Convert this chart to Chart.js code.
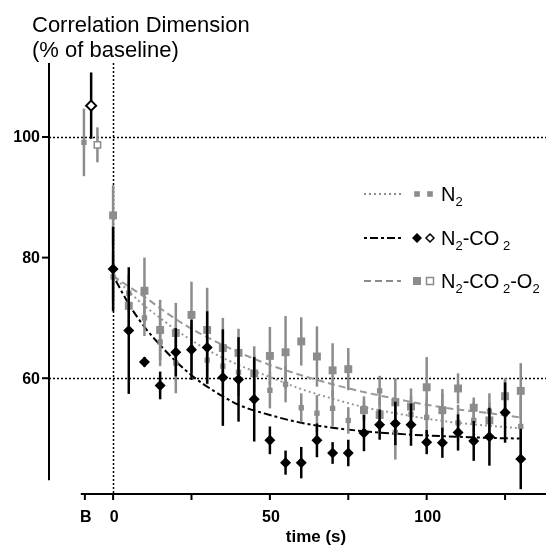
<!DOCTYPE html>
<html>
<head>
<meta charset="utf-8">
<script src="https://cdn.jsdelivr.net/npm/chart.js@4.4.1/dist/chart.umd.min.js"></script>
<style>
  html, body { margin: 0; padding: 0; background: #fff; }
  #wrap { width: 553px; height: 556px; }
</style>
</head>
<body>
<div id="wrap"><canvas id="chart" width="553" height="556"></canvas></div>
<script>
// sample times (s)
var times = [0, 5, 10, 15, 20, 25, 30, 35, 40, 45, 50, 55, 60, 65, 70, 75, 80, 85, 90, 95, 100, 105, 110, 115, 120, 125, 130];

// N2
var n2Mean = [76.8, 74.1, 70.0, 66.0, 62.5, 65.0, 63.0, 62.0, 61.0, 60.8, 58.0, 59.0, 55.1, 54.2, 55.0, 53.0, 55.0, 57.9, 51.0, 54.0, 53.5, 54.5, 52.6, 53.0, 54.5, 57.2, 52.0];
var n2Sem  = [4.0, 3.0, 3.0, 4.0, 5.0, 4.0, 4.0, 4.0, 4.0, 3.0, 3.0, 3.0, 2.4, 3.0, 3.0, 2.2, 2.0, 2.5, 4.5, 3.0, 3.0, 3.0, 3.0, 3.0, 3.0, 2.5, 5.0];

// N2-CO2
var co2Mean = [78.1, 67.9, 62.7, 58.8, 64.3, 64.7, 65.1, 60.1, 59.8, 56.5, 49.7, 46.0, 46.0, 49.7, 47.6, 47.6, 50.9, 52.3, 52.5, 52.3, 49.4, 49.3, 51.0, 49.6, 50.3, 54.3, 46.6];
var co2Sem  = [7.0, 10.5, 0.8, 2.3, 4.0, 5.0, 6.0, 8.0, 7.0, 7.0, 2.3, 2.0, 2.6, 2.8, 1.8, 2.2, 3.0, 2.5, 3.6, 3.5, 2.0, 2.5, 3.0, 3.3, 4.8, 5.0, 5.0];

// N2-CO2-O2
var o2Mean = [87.0, 72.0, 74.5, 68.0, 67.5, 70.5, 68.0, 65.0, 64.2, 60.8, 63.7, 64.3, 66.1, 63.6, 61.3, 61.5, 54.7, 53.9, 56.0, 55.3, 58.5, 54.7, 58.3, 55.1, 53.0, 57.0, 57.9];
var o2Sem  = [5.0, 4.0, 5.5, 5.0, 5.0, 5.5, 7.0, 5.0, 4.0, 4.5, 4.8, 6.0, 4.0, 5.0, 4.5, 3.5, 1.5, 3.0, 4.0, 3.0, 5.0, 3.5, 2.5, 1.7, 3.0, 3.0, 4.6];

// baseline column "B" (N2, N2-CO2, N2-CO2-O2)
var baseX    = [-9.3, -7.0, -5.0];
var baseMean = [99.1, 105.2, 98.7];
var baseSem  = [5.6, 5.5, 2.9];

// fitted decay curves
var fitTimes = [0, 5, 10, 15, 20, 25, 30, 40, 50, 60, 70, 80, 90, 100, 110, 120, 130];
var n2Fit  = [77, 74.4, 72, 70, 68, 66.3, 64.7, 62.2, 60.2, 58.2, 56.6, 55.2, 54.2, 53.3, 52.6, 52.1, 51.7];
var co2Fit = [77, 72.3, 68.5, 65.5, 62.8, 60.5, 58.6, 55.6, 53.9, 52.6, 51.8, 51.2, 50.8, 50.5, 50.3, 50.1, 50.0];
var o2Fit  = [77, 75.2, 73.5, 71.6, 69.8, 68.2, 66.8, 64.3, 62.2, 60.5, 59, 57.7, 56.6, 55.6, 54.8, 54.2, 53.5];

var yTicks = [60, 80, 100];
var xTicks = [-9, 0, 25, 50, 75, 100, 125];
var xTickLabels = ['B', '0', '', '50', '', '100', ''];

var FONT = "'Liberation Sans', Arial, sans-serif";
var GREY = '#8c8c8c';

function pts(xv, yv) {
    return xv.map(function (x, i) { return { x: x, y: yv[i] }; });
}

// error bars, drawn just under each dataset's markers
var errorBars = {
    id: 'errorBars',
    beforeDatasetDraw: function (chart, args) {
        var ds = chart.data.datasets[args.index];
        if (!ds.errors) return;
        var xs = chart.scales.x, ys = chart.scales.y, ctx = chart.ctx;
        ctx.save();
        ctx.strokeStyle = ds.barColor;
        ctx.lineWidth = 2.5;
        ds.data.forEach(function (p, i) {
            var px = xs.getPixelForValue(p.x);
            ctx.beginPath();
            ctx.moveTo(px, ys.getPixelForValue(p.y + ds.errors[i]));
            ctx.lineTo(px, ys.getPixelForValue(p.y - ds.errors[i]));
            ctx.stroke();
        });
        ctx.restore();
    }
};

// reference lines at 100 %, 60 % and t = 0
var refLines = {
    id: 'refLines',
    beforeDatasetsDraw: function (chart) {
        var xs = chart.scales.x, ys = chart.scales.y, ctx = chart.ctx, a = chart.chartArea;
        ctx.save();
        ctx.strokeStyle = '#000';
        ctx.lineWidth = 1.5;
        ctx.setLineDash([2, 2]);
        [100, 60].forEach(function (v) {
            var py = Math.round(ys.getPixelForValue(v)) + 0.5;
            ctx.beginPath(); ctx.moveTo(a.left, py); ctx.lineTo(a.right, py); ctx.stroke();
        });
        var px = Math.round(xs.getPixelForValue(0)) + 0.5;
        ctx.beginPath(); ctx.moveTo(px, a.top); ctx.lineTo(px, a.bottom); ctx.stroke();
        ctx.restore();
    }
};

// detached axes in the Prism style
var axes = {
    id: 'axes',
    afterDraw: function (chart) {
        var xs = chart.scales.x, ys = chart.scales.y, ctx = chart.ctx, a = chart.chartArea;
        ctx.save();
        ctx.strokeStyle = '#000';
        ctx.fillStyle = '#000';
        ctx.lineWidth = 2;
        // y axis
        ctx.beginPath();
        ctx.moveTo(a.left, a.top);
        ctx.lineTo(a.left, ys.getPixelForValue(43.1));
        ctx.stroke();
        ctx.font = 'bold 16px ' + FONT;
        ctx.textAlign = 'right';
        ctx.textBaseline = 'middle';
        yTicks.forEach(function (v) {
            var py = ys.getPixelForValue(v);
            ctx.beginPath(); ctx.moveTo(a.left - 7, py); ctx.lineTo(a.left, py); ctx.stroke();
            ctx.fillText(String(v), a.left - 9, py + 1);
        });
        // x axis
        var by = a.bottom;
        ctx.beginPath();
        ctx.moveTo(xs.getPixelForValue(-10.3), by);
        ctx.lineTo(a.right, by);
        ctx.stroke();
        ctx.textAlign = 'center';
        ctx.textBaseline = 'alphabetic';
        xTicks.forEach(function (v, i) {
            var px = xs.getPixelForValue(v);
            ctx.beginPath(); ctx.moveTo(px, by); ctx.lineTo(px, by + 6); ctx.stroke();
            if (xTickLabels[i]) ctx.fillText(xTickLabels[i], px + 1, by + 28);
        });
        ctx.font = 'bold 17px ' + FONT;
        ctx.fillText('time (s)', 316, 542);
        // title
        ctx.font = '22px ' + FONT;
        ctx.textAlign = 'left';
        ctx.fillText('Correlation Dimension', 32, 32);
        ctx.fillText('(% of baseline)', 32, 57);
        ctx.restore();
        drawLegend(ctx);
    }
};

function marker(ctx, kind, x, y, r, fill, stroke) {
    ctx.beginPath();
    if (kind === 'diamond') {
        ctx.moveTo(x - r, y); ctx.lineTo(x, y - r); ctx.lineTo(x + r, y); ctx.lineTo(x, y + r); ctx.closePath();
    } else {
        ctx.rect(x - r, y - r, 2 * r, 2 * r);
    }
    ctx.fillStyle = fill; ctx.fill();
    if (stroke) { ctx.lineWidth = 1.5; ctx.strokeStyle = stroke; ctx.stroke(); }
}

function richText(ctx, parts, x, y) {
    parts.forEach(function (p) {
        ctx.font = (p[1] ? '13px ' : '20px ') + FONT;
        ctx.fillText(p[0], x, y + (p[1] ? 5 : 0));
        x += ctx.measureText(p[0]).width;
    });
}

function drawLegend(ctx) {
    var rows = [
        { y: 194, color: GREY, dash: [2, 3], m: [['rect', 2.8, GREY, null], ['rect', 2.8, GREY, null]],
          text: [['N', 0], ['2', 1]] },
        { y: 238, color: '#000', dash: [3, 3, 8, 3], m: [['diamond', 5, '#000', null], ['diamond', 4, '#fff', '#000']],
          text: [['N', 0], ['2', 1], ['-CO', 0], [' 2', 1]] },
        { y: 281, color: GREY, dash: [7, 4], m: [['rect', 4, GREY, null], ['rect', 3.5, '#fff', GREY]],
          text: [['N', 0], ['2', 1], ['-CO', 0], [' 2', 1], ['-O', 0], ['2', 1]] }
    ];
    ctx.save();
    rows.forEach(function (r) {
        ctx.strokeStyle = r.color;
        ctx.lineWidth = 2;
        ctx.setLineDash(r.dash);
        ctx.beginPath(); ctx.moveTo(364, r.y); ctx.lineTo(401, r.y); ctx.stroke();
        ctx.setLineDash([]);
        marker(ctx, r.m[0][0], 417, r.y, r.m[0][1], r.m[0][2], r.m[0][3]);
        marker(ctx, r.m[1][0], 430, r.y, r.m[1][1], r.m[1][2], r.m[1][3]);
        ctx.fillStyle = '#000';
        ctx.textAlign = 'left';
        richText(ctx, r.text, 441, r.y + 7);
    });
    ctx.restore();
}

var ctx = document.getElementById('chart').getContext('2d');
new Chart(ctx, {
    type: 'scatter',
    data: {
        datasets: [
            { label: 'N2-CO2', data: pts(times, co2Mean), errors: co2Sem, barColor: '#000',
              pointStyle: 'rectRot', pointRadius: 5.5, backgroundColor: '#000', borderColor: '#000', borderWidth: 0 },
            { label: 'N2-CO2 B', data: [{ x: baseX[1], y: baseMean[1] }], errors: [baseSem[1]], barColor: '#000',
              pointStyle: 'rectRot', pointRadius: 5, backgroundColor: '#fff', borderColor: '#000', borderWidth: 2 },
            { label: 'N2', data: pts(times, n2Mean), errors: n2Sem, barColor: GREY,
              pointStyle: 'rect', pointRadius: 3.8, backgroundColor: GREY, borderColor: GREY, borderWidth: 0 },
            { label: 'N2 B', data: [{ x: baseX[0], y: baseMean[0] }], errors: [baseSem[0]], barColor: GREY,
              pointStyle: 'rect', pointRadius: 3.8, backgroundColor: GREY, borderColor: GREY, borderWidth: 0 },
            { label: 'N2-CO2-O2', data: pts(times, o2Mean), errors: o2Sem, barColor: GREY,
              pointStyle: 'rect', pointRadius: 5.6, backgroundColor: GREY, borderColor: GREY, borderWidth: 0 },
            { label: 'N2-CO2-O2 B', data: [{ x: baseX[2], y: baseMean[2] }], errors: [baseSem[2]], barColor: GREY,
              pointStyle: 'rect', pointRadius: 4.5, backgroundColor: '#fff', borderColor: GREY, borderWidth: 1.5 },
            { type: 'line', label: 'fit N2-CO2', data: pts(fitTimes, co2Fit), borderColor: '#000', borderWidth: 2,
              borderDash: [3, 3, 8, 3], pointRadius: 0, cubicInterpolationMode: 'monotone', fill: false },
            { type: 'line', label: 'fit N2', data: pts(fitTimes, n2Fit), borderColor: '#999', borderWidth: 2,
              borderDash: [2, 3], pointRadius: 0, cubicInterpolationMode: 'monotone', fill: false },
            { type: 'line', label: 'fit N2-CO2-O2', data: pts(fitTimes, o2Fit), borderColor: '#999', borderWidth: 2,
              borderDash: [7, 4], pointRadius: 0, cubicInterpolationMode: 'monotone', fill: false }
        ]
    },
    options: {
        responsive: false,
        animation: false,
        devicePixelRatio: 1,
        layout: { padding: { left: 49, top: 63, right: 0, bottom: 62 } },
        scales: {
            x: { type: 'linear', display: false, min: -20.44, max: 138.05 },
            y: { type: 'linear', display: false, min: 40.8, max: 112.27 }
        },
        plugins: { legend: { display: false }, tooltip: { enabled: false } }
    },
    plugins: [errorBars, refLines, axes]
});
</script>
</body>
</html>
